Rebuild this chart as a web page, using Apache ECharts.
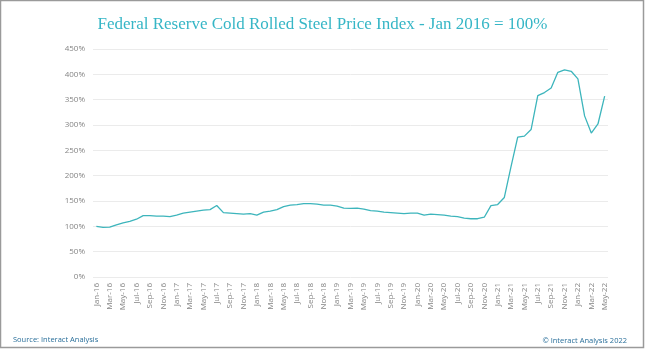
<!DOCTYPE html>
<html>
<head>
<meta charset="utf-8">
<script src="https://cdn.jsdelivr.net/npm/echarts@6/dist/echarts.min.js"></script>
<style>
  html, body { margin: 0; padding: 0; background: #fff; }
  #chart { width: 645px; height: 350px; }
</style>
</head>
<body>
<div id="chart"></div>
<script>
// monthly categories Jan-16 .. May-22
var months = ['Jan', 'Feb', 'Mar', 'Apr', 'May', 'Jun', 'Jul', 'Aug', 'Sep', 'Oct', 'Nov', 'Dec'];
var categories = [];
for (var y = 16; y <= 22; y++) {
    for (var m = 0; m < 12; m++) {
        if (y === 22 && m > 4) break;
        categories.push(months[m] + '-' + y);
    }
}

// index values, Jan 2016 = 100
var index2016 = [100, 98, 98.5, 103, 107, 110, 114, 121, 121, 120, 120, 119];
var index2017 = [122, 126, 128, 130, 132, 133, 141, 127, 126, 125, 124, 125];
var index2018 = [122, 128, 130, 133, 139, 142, 143, 145, 145, 144, 142, 142];
var index2019 = [140, 136, 135.5, 136, 134, 131, 130, 128, 127, 126, 125, 126];
var index2020 = [126, 122, 124, 123, 122, 120, 119, 116, 115, 115, 118, 141];
var index2021 = [143, 157, 218, 276, 278, 291, 358, 364, 373, 404, 409, 406];
var index2022 = [391, 318, 284, 302, 357];

var values = [].concat(index2016, index2017, index2018, index2019, index2020, index2021, index2022);

var yTicks = { min: 0, max: 450, step: 50 };

var myChart = echarts.init(document.getElementById('chart'));
var option = {
    backgroundColor: '#ffffff',
    animation: false,
    title: {
        text: 'Federal Reserve Cold Rolled Steel Price Index - Jan 2016 = 100%',
        left: 'center',
        top: 11,
        textStyle: {
            fontFamily: 'Liberation Serif',
            fontWeight: 'normal',
            fontSize: 17,
            color: '#36b6c6'
        }
    },
    grid: {
        left: 93,
        right: 37,
        top: 49,
        bottom: 73
    },
    xAxis: {
        type: 'category',
        data: categories,
        boundaryGap: true,
        axisLine: { show: false },
        axisTick: { show: false },
        axisLabel: {
            interval: 1,
            rotate: 90,
            margin: 6,
            fontSize: 8,
            fontFamily: 'Open Sans',
            color: '#858585'
        }
    },
    yAxis: {
        type: 'value',
        min: yTicks.min,
        max: yTicks.max,
        interval: yTicks.step,
        axisLine: { show: false },
        axisTick: { show: false },
        axisLabel: {
            formatter: '{value}%',
            margin: 8,
            fontSize: 8,
            fontFamily: 'Open Sans',
            color: '#858585'
        },
        splitLine: { lineStyle: { color: '#ebebeb', width: 1 } }
    },
    series: [
        {
            name: 'Index',
            type: 'line',
            data: values,
            symbol: 'none',
            smooth: false,
            lineStyle: { color: '#3db5bc', width: 1.3 }
        }
    ],
    graphic: [
        {
            type: 'rect',
            shape: { x: 0.5, y: 0.5, width: 643, height: 347 },
            style: { fill: 'none', stroke: '#9a9a9a', lineWidth: 1.5 },
            silent: true
        },
        {
            type: 'text',
            left: 13,
            top: 336,
            style: {
                text: 'Source: Interact Analysis',
                font: '7.5px "Open Sans"',
                fill: '#2a6f9a'
            }
        },
        {
            type: 'text',
            right: 18,
            top: 337,
            style: {
                text: '\u00a9 Interact Analysis 2022',
                font: '7.5px "Open Sans"',
                fill: '#2a6f9a'
            }
        }
    ]
};
myChart.setOption(option);
</script>
</body>
</html>
